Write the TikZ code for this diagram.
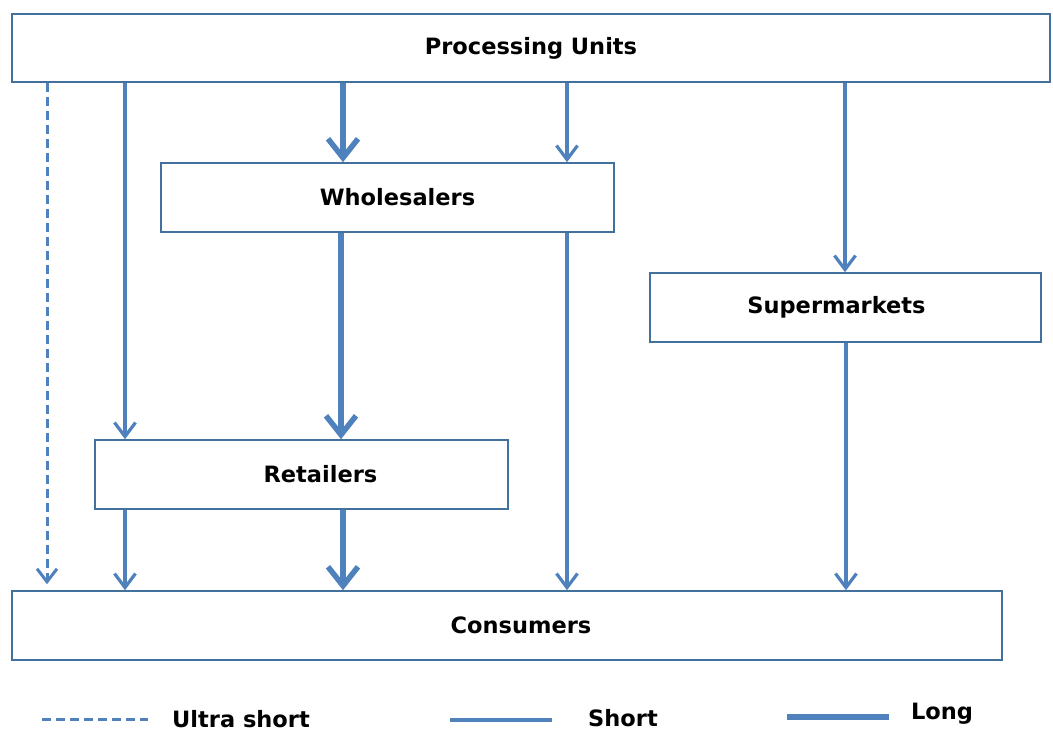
\documentclass[tikz,border=0pt]{standalone}
\usepackage{fontspec}
\setmainfont{DejaVu Sans}
\usepackage{tikz}
\usetikzlibrary{arrows.meta,calc}

\definecolor{linkblue}{HTML}{4F81BD}
\definecolor{boxblue}{HTML}{41719C}

\tikzset{
  unit/.style={draw=boxblue,line width=1.6pt,fill=white,inner sep=0pt,
    font=\fontsize{22.5}{26}\selectfont\bfseries},
  ultra/.style={color=linkblue,line width=3pt,dash pattern=on 9pt off 5pt,
    -{Straight Barb[length=13pt,width=20pt,line width=3pt]}},
  shortflow/.style={color=linkblue,line width=3.2pt,
    -{Straight Barb[length=14pt,width=21pt,line width=3.2pt]}},
  longflow/.style={color=linkblue,line width=5.5pt,
    -{Straight Barb[length=19pt,width=30pt,line width=5.5pt]}},
  legtext/.style={font=\fontsize{22.5}{26}\selectfont\bfseries,inner sep=0pt}
}

\begin{document}
\begin{tikzpicture}[x=1pt,y=-1pt]
    \useasboundingbox (0,0) rectangle (1053,731);
    \node[unit,minimum width=1038pt,minimum height=68pt] (PU) at (531,48) {Processing Units};
    \node[unit,minimum width=453pt,minimum height=69pt] (WS) at (387.5,197.5) {\hspace*{20pt}Wholesalers};
    \node[unit,minimum width=391pt,minimum height=69pt] (SM) at (845.5,307.5) {Supermarkets\hspace*{18pt}};
    \node[unit,minimum width=413pt,minimum height=69pt] (RT) at (301.5,474.5) {\hspace*{38pt}Retailers};
    \node[unit,minimum width=990pt,minimum height=69pt] (CS) at (507,625.5) {\hspace*{28pt}Consumers};
    % processing units
    \path[ultra]
      (PU.south -| 47,0) edge ($(CS.north -| 47,0)+(0,-6)$);
    \path[shortflow]
      (PU.south -| 125,0) edge (RT.north -| 125,0)
      (PU.south -| 567,0) edge (WS.north -| 567,0)
      (PU.south -| 845,0) edge (SM.north -| 845,0);
    \path[longflow]
      (PU.south -| 343,0) edge (WS.north -| 343,0);
    % wholesalers and supermarkets
    \path[longflow]
      (WS.south -| 341,0) edge (RT.north -| 341,0);
    \path[shortflow]
      (WS.south -| 567,0) edge (CS.north -| 567,0)
      (SM.south -| 846,0) edge (CS.north -| 846,0);
    % retailers
    \path[shortflow]
      (RT.south -| 125,0) edge (CS.north -| 125,0);
    \path[longflow]
      (RT.south -| 343,0) edge (CS.north -| 343,0);
    % legend
    \coordinate (L1a) at (42,719);
    \coordinate (L1b) at (148,719);
    \coordinate (L2a) at (450,720);
    \coordinate (L2b) at (552,720);
    \coordinate (L3a) at (787,717);
    \coordinate (L3b) at (889,717);
    \draw[ultra,-] (L1a) -- (L1b);
    \draw[shortflow,-] (L2a) -- (L2b);
    \draw[longflow,-,line width=6.5pt] (L3a) -- (L3b);
    \node[legtext] (T1) at (241,719) {Ultra short};
    \node[legtext] (T2) at (623,718) {Short};
    \node[legtext] (T3) at (942,714) {Long};
\end{tikzpicture}
\end{document}
